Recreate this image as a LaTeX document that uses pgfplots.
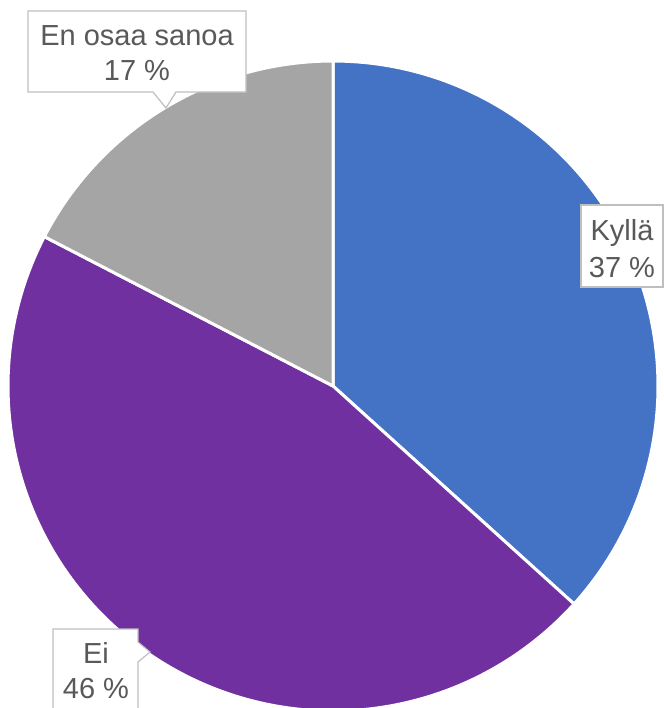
\documentclass[border=0pt]{standalone}
\usepackage{fontspec}
\setmainfont{Liberation Sans}
\usepackage{pgfplots}
\usepackage{pgfplotstable}
\pgfplotsset{compat=1.18}
\definecolor{kblue}{HTML}{4472C4}
\definecolor{kpurple}{HTML}{7030A0}
\definecolor{kgray}{HTML}{A5A5A5}
\definecolor{ktext}{HTML}{595959}
\definecolor{kbox}{HTML}{BFBFBF}
\tikzset{lbl/.style={font=\fontsize{14.5}{17}\selectfont,text=ktext,anchor=base,inner sep=0pt}}
\newcommand\pct[1]{\pgfmathprintnumber[fixed,precision=0,assume math mode=true]{#1}~\%}

\pgfplotstableread{
label value
Kyllä 36.7
Ei 45.9
{En osaa sanoa} 17.4
}\piedata

\begin{document}
\begin{tikzpicture}
\pgfplotstablegetelem{0}{value}\of\piedata \let\va\pgfplotsretval
\pgfplotstablegetelem{1}{value}\of\piedata \let\vb\pgfplotsretval
\pgfplotstablegetelem{2}{value}\of\piedata \let\vc\pgfplotsretval
\pgfmathsetmacro\aA{90}
\pgfmathsetmacro\aB{\aA-3.6*\va}
\pgfmathsetmacro\aC{\aB-3.6*\vb}
\pgfmathsetmacro\aD{\aC-3.6*\vc}
\begin{axis}[x=0.5pt,y=0.5pt,xmin=0,xmax=664,ymin=0,ymax=708,y dir=reverse,
  hide axis,clip=false,samples=120]
% slices: centre (333,386), radius 325 px
\addplot[fill=kblue,draw=white,line width=1.5pt,line join=round,domain=\aB:\aA,variable=\t]
  ({333+325*cos(\t)},{386-325*sin(\t)}) -- (axis cs:333,386) -- cycle;
\addplot[fill=kpurple,draw=white,line width=1.5pt,line join=round,domain=\aC:\aB,variable=\t]
  ({333+325*cos(\t)},{386-325*sin(\t)}) -- (axis cs:333,386) -- cycle;
\addplot[fill=kgray,draw=white,line width=1.5pt,line join=round,domain=\aD:\aC,variable=\t]
  ({333+325*cos(\t)},{386-325*sin(\t)}) -- (axis cs:333,386) -- cycle;
% label boxes
\filldraw[fill=white,draw=kbox,line width=0.6pt]
  (axis cs:28,11) -- (axis cs:246,11) -- (axis cs:246,92) -- (axis cs:176,92)
  -- (axis cs:166,108) -- (axis cs:153,92) -- (axis cs:28,92) -- cycle;
\filldraw[fill=white,draw=kbox,line width=0.6pt]
  (axis cs:581,205) rectangle (axis cs:663,287);
\filldraw[fill=white,draw=kbox,line width=0.6pt]
  (axis cs:53,716) -- (axis cs:53,629) -- (axis cs:138,629) -- (axis cs:138,642)
  -- (axis cs:150,652) -- (axis cs:138,662) -- (axis cs:138,716);
\node[lbl] at (axis cs:137,45) {En osaa sanoa};
\node[lbl] at (axis cs:137,80) {\pct{\vc}};
\node[lbl] at (axis cs:622,240) {Kyllä};
\node[lbl] at (axis cs:622,277) {\pct{\va}};
\node[lbl] at (axis cs:96,663) {Ei};
\node[lbl] at (axis cs:96,698) {\pct{\vb}};
\coordinate (bl) at (axis cs:0,708);
\coordinate (tr) at (axis cs:664,0);
\end{axis}
\pgfresetboundingbox
\useasboundingbox (bl) rectangle (tr);
\end{tikzpicture}
\end{document}
